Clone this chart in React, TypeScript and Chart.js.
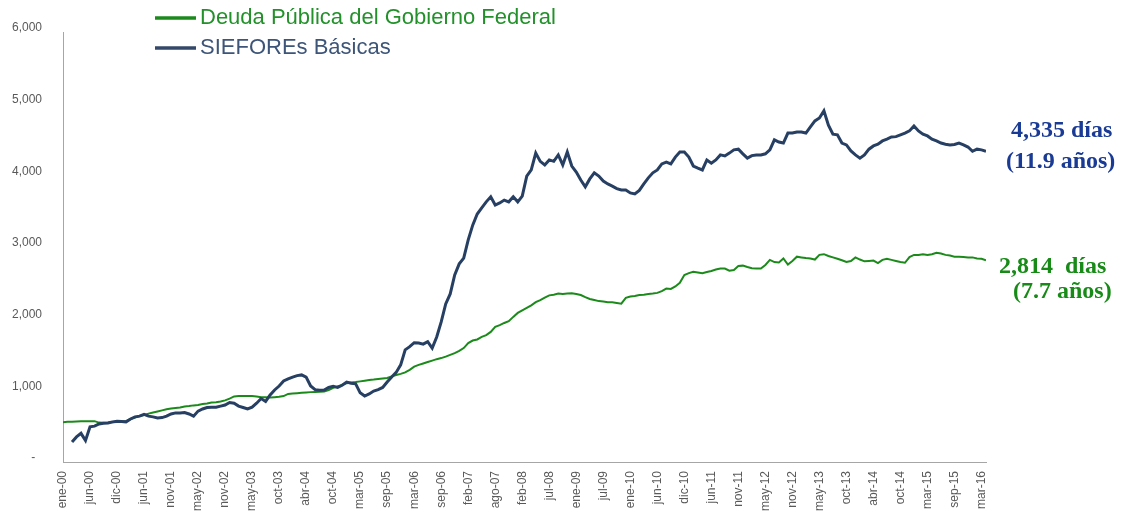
import React, { useEffect, useRef } from "react";
import { Chart, registerables } from "chart.js";

Chart.register(...registerables);

// Tick labels (one every 6 data points)
const tickLabels = [
  "ene-00", "jun-00", "dic-00", "jun-01", "nov-01", "may-02", "nov-02", "may-03", "oct-03",
  "abr-04", "oct-04", "mar-05", "sep-05", "mar-06", "sep-06", "feb-07", "ago-07", "feb-08",
  "jul-08", "ene-09", "jul-09", "ene-10", "jun-10", "dic-10", "jun-11", "nov-11", "may-12",
  "nov-12", "may-13", "oct-13", "abr-14", "oct-14", "mar-15", "sep-15", "mar-16",
];
const pointsPerTick = 6;

const yTicks = [0, 1000, 2000, 3000, 4000, 5000, 6000];

// SIEFOREs Básicas (días)
const siefores: (number | null)[] = [
  null, null, 280, 350, 400, 300, 490, 500, 530, 540,
  545, 560, 570, 565, 560, 600, 630, 640, 665, 640,
  630, 615, 620, 640, 670, 685, 685, 690, 670, 640,
  710, 740, 760, 765, 765, 780, 795, 830, 820, 780,
  760, 740, 765, 820, 885, 845, 935, 1005, 1060, 1130,
  1160, 1185, 1205, 1215, 1185, 1060, 1010, 1000, 1005, 1040,
  1055, 1040, 1070, 1115, 1100, 1090, 965, 920, 950, 990,
  1010, 1040, 1115, 1185, 1250, 1355, 1565, 1610, 1665, 1660,
  1645, 1680, 1590, 1745, 1955, 2205, 2345, 2610, 2765, 2845,
  3100, 3305, 3460, 3545, 3630, 3700, 3585, 3615, 3655, 3630,
  3700, 3630, 3710, 3990, 4075, 4310, 4195, 4145, 4215, 4195,
  4285, 4145, 4325, 4130, 4045, 3935, 3840, 3950, 4035, 3990,
  3920, 3880, 3850, 3815, 3795, 3795, 3755, 3740, 3790, 3880,
  3965, 4035, 4075, 4160, 4185, 4160, 4255, 4325, 4325, 4255,
  4130, 4100, 4075, 4215, 4170, 4215, 4285, 4270, 4310, 4355,
  4365, 4300, 4240, 4275, 4285, 4285, 4300, 4355, 4495, 4465,
  4450, 4590, 4590, 4605, 4605, 4590, 4675, 4760, 4800, 4900,
  4700, 4575, 4565, 4450, 4425, 4340, 4285, 4240, 4285, 4365,
  4410, 4435, 4480, 4505, 4535, 4540, 4565, 4590, 4620, 4690,
  4620, 4575, 4550, 4505, 4480, 4450, 4435, 4425, 4430, 4450,
  4425, 4395, 4335, 4365, 4355, 4335,
];

// Deuda Pública del Gobierno Federal (días)
const deuda: number[] = [
  555, 560, 560, 565, 570, 570, 570, 570, 550, 548,
  550, 555, 558, 558, 570, 600, 620, 640, 655, 675,
  690, 705, 720, 735, 745, 755, 760, 775, 780, 790,
  795, 810, 815, 830, 835, 845, 860, 885, 915, 920,
  920, 920, 920, 915, 905, 905, 900, 905, 910, 920,
  950, 955, 960, 965, 970, 975, 978, 980, 985, 1005,
  1035, 1055, 1075, 1100, 1110, 1115, 1125, 1135, 1145, 1150,
  1158, 1165, 1172, 1195, 1215, 1230, 1250, 1285, 1330, 1355,
  1375, 1395, 1415, 1435, 1450, 1470, 1495, 1520, 1550, 1590,
  1660, 1695, 1710, 1745, 1770, 1815, 1885, 1910, 1940, 1965,
  2025, 2080, 2115, 2150, 2185, 2230, 2260, 2295, 2325, 2335,
  2350, 2345, 2350, 2355, 2345, 2330, 2300, 2275, 2260, 2245,
  2240, 2230, 2230, 2220, 2210, 2290, 2310, 2315, 2330, 2335,
  2345, 2350, 2360, 2385, 2420, 2415, 2450, 2500, 2610, 2635,
  2655, 2645, 2635, 2650, 2665, 2685, 2700, 2700, 2670, 2680,
  2735, 2740, 2720, 2705, 2700, 2700, 2750, 2820, 2790, 2785,
  2840, 2755, 2805, 2865, 2855, 2845, 2840, 2825, 2890, 2900,
  2875, 2855, 2835, 2815, 2790, 2805, 2855, 2825, 2800, 2805,
  2810, 2775, 2820, 2835, 2820, 2805, 2790, 2780, 2860, 2890,
  2890, 2900, 2890, 2900, 2920, 2910, 2890, 2880, 2865, 2865,
  2860, 2855, 2855, 2840, 2835, 2815,
];

const seriesNames = ["Deuda Pública del Gobierno Federal", "SIEFOREs Básicas"];
const endNotesBlue = ["4,335 días", "(11.9 años)"];
const endNotesGreen = ["2,814  días", "(7.7 años)"];

const GREEN = "#1B8A1B";
const NAVY = "#263F62";
const AXIS = "#A6A6A6";
const TICK = "#595959";

export default function App() {
  const ref = useRef<HTMLCanvasElement | null>(null);

  useEffect(() => {
    if (!ref.current) return;

    const textPlugin = {
      id: "legendAndNotes",
      afterDraw(chart: any) {
        const ctx = chart.ctx as CanvasRenderingContext2D;
        ctx.save();
        ctx.textBaseline = "middle";
        ctx.textAlign = "left";
        // legend
        ctx.lineWidth = 3.5;
        ctx.strokeStyle = GREEN;
        ctx.beginPath();
        ctx.moveTo(155, 18);
        ctx.lineTo(196, 18);
        ctx.stroke();
        ctx.strokeStyle = "#34496A";
        ctx.beginPath();
        ctx.moveTo(155, 48);
        ctx.lineTo(196, 48);
        ctx.stroke();
        ctx.font = "22px 'Liberation Sans'";
        ctx.fillStyle = "#22912A";
        ctx.fillText(seriesNames[0], 200, 18);
        ctx.fillStyle = "#3D5578";
        ctx.fillText(seriesNames[1], 200, 48);
        // end notes
        ctx.font = "bold 24px 'Liberation Serif'";
        ctx.fillStyle = "#1A3B95";
        ctx.fillText(endNotesBlue[0], 1011, 131);
        ctx.fillText(endNotesBlue[1], 1006, 162);
        ctx.fillStyle = "#178A17";
        ctx.fillText(endNotesGreen[0], 999, 267);
        ctx.fillText(endNotesGreen[1], 1013, 292);
        ctx.restore();
      },
    };

    const chart = new Chart(ref.current, {
      type: "line",
      data: {
        datasets: [
          {
            label: seriesNames[1],
            data: siefores.map((v, i) => ({ x: i, y: v })),
            borderColor: NAVY,
            borderWidth: 3,
            pointRadius: 0,
            tension: 0,
            order: 0,
          },
          {
            label: seriesNames[0],
            data: deuda.map((v, i) => ({ x: i, y: v })),
            borderColor: GREEN,
            borderWidth: 2,
            pointRadius: 0,
            tension: 0,
            order: 1,
          },
        ],
      },
      options: {
        animation: false,
        responsive: false,
        devicePixelRatio: 1,
        layout: { padding: { left: 0, right: 140, top: 32, bottom: 0 } },
        plugins: {
          legend: { display: false },
          tooltip: { enabled: false },
        },
        scales: {
          x: {
            type: "linear",
            min: 0,
            max: siefores.length - 1,
            afterBuildTicks: (scale: any) => {
              scale.ticks = tickLabels.map((_, k) => ({ value: k * pointsPerTick }));
            },
            afterFit: (scale: any) => {
              scale.height = 55;
            },
            grid: { display: false, drawTicks: false },
            border: { display: true, color: AXIS, width: 1 },
            ticks: {
              autoSkip: false,
              minRotation: 90,
              maxRotation: 90,
              padding: 9,
              color: TICK,
              font: { family: "'Liberation Sans'", size: 12 },
              callback: (v: any) => tickLabels[Math.round(Number(v) / pointsPerTick)] ?? "",
            },
          },
          y: {
            min: 0,
            max: 6000,
            afterBuildTicks: (scale: any) => {
              scale.ticks = yTicks.map((v) => ({ value: v }));
            },
            afterFit: (scale: any) => {
              scale.width = 63;
            },
            grid: { display: false, drawTicks: false },
            border: { display: true, color: AXIS, width: 1 },
            ticks: {
              padding: 21,
              labelOffset: -4,
              color: TICK,
              font: { family: "'Liberation Sans'", size: 12 },
              callback: (v: any) => (Number(v) === 0 ? "-  " : Number(v).toLocaleString("en-US")),
            },
          },
        },
      },
      plugins: [textPlugin],
    } as any);

    return () => chart.destroy();
  }, []);

  return (
    <div style={{ position: "absolute", left: 0, top: 0, width: 1126, height: 517, background: "#fff" }}>
      <canvas ref={ref} width={1126} height={517} style={{ display: "block" }} />
    </div>
  );
}
